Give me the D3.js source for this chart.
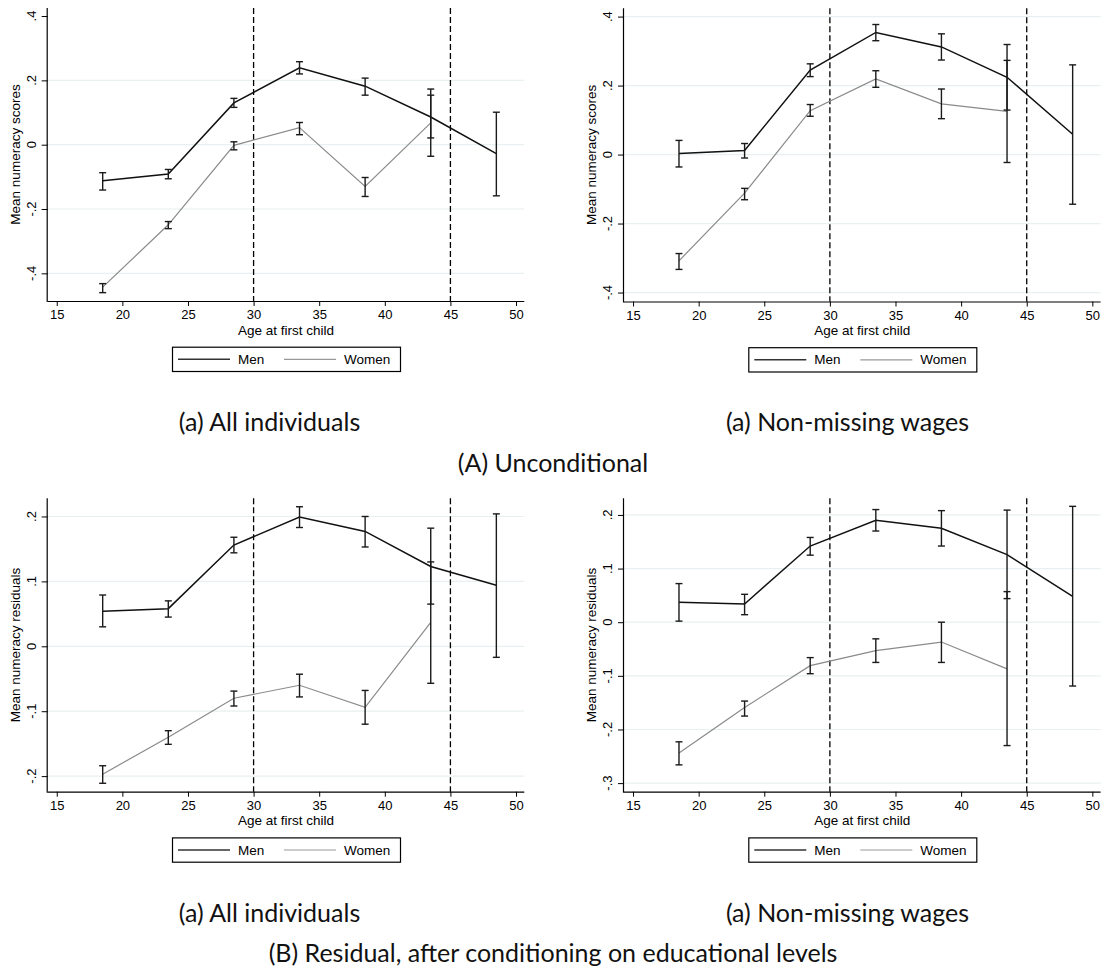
<!DOCTYPE html>
<html>
<head>
<meta charset="utf-8">
<script src="https://cdn.jsdelivr.net/npm/d3@7"></script>
<style>
  html, body { margin: 0; padding: 0; background: #fff; }
  svg { display: block; }
</style>
</head>
<body>
<svg id="chart" width="1105" height="969"></svg>
<script>
// ---------- DATA ----------
const menAges = [18.5, 23.5, 28.5, 33.5, 38.5, 43.5, 48.5];
const womenAges = [18.5, 23.5, 28.5, 33.5, 38.5, 43.5];
const xTicks = [15, 20, 25, 30, 35, 40, 45, 50];
const vLines = [30, 45];
const legendLabels = ["Men", "Women"];

// (A) Unconditional, all individuals
const menAllMean = [-0.112, -0.091, 0.130, 0.239, 0.182, 0.086, -0.028];
const menAllLo   = [-0.141, -0.106, 0.116, 0.220, 0.154, 0.021, -0.159];
const menAllHi   = [-0.087, -0.077, 0.144, 0.258, 0.207, 0.154, 0.101];
const womenAllMean = [-0.443, -0.249, -0.002, 0.053, -0.130, 0.068];
const womenAllLo   = [-0.460, -0.261, -0.016, 0.031, -0.161, -0.036];
const womenAllHi   = [-0.432, -0.239, 0.009, 0.069, -0.102, 0.173];

// (A) Unconditional, non-missing wages
const menWageMean = [0.003, 0.012, 0.245, 0.354, 0.312, 0.224, 0.059];
const menWageLo   = [-0.036, -0.010, 0.226, 0.330, 0.274, 0.129, -0.144];
const menWageHi   = [0.041, 0.032, 0.263, 0.377, 0.350, 0.319, 0.260];
const womenWageMean = [-0.308, -0.112, 0.127, 0.219, 0.147, 0.125];
const womenWageLo   = [-0.333, -0.131, 0.111, 0.195, 0.104, -0.023];
const womenWageHi   = [-0.287, -0.098, 0.145, 0.243, 0.190, 0.273];

// (B) Residual, all individuals
const menResAllMean = [0.054, 0.058, 0.156, 0.199, 0.177, 0.123, 0.094];
const menResAllLo   = [0.030, 0.045, 0.144, 0.183, 0.153, 0.065, -0.017];
const menResAllHi   = [0.079, 0.070, 0.168, 0.215, 0.200, 0.182, 0.204];
const womenResAllMean = [-0.197, -0.140, -0.080, -0.060, -0.094, 0.037];
const womenResAllLo   = [-0.211, -0.151, -0.092, -0.078, -0.120, -0.057];
const womenResAllHi   = [-0.184, -0.130, -0.069, -0.043, -0.068, 0.130];

// (B) Residual, non-missing wages
const menResWageMean = [0.037, 0.034, 0.142, 0.190, 0.175, 0.126, 0.048];
const menResWageLo   = [0.002, 0.014, 0.125, 0.170, 0.142, 0.044, -0.119];
const menResWageHi   = [0.072, 0.052, 0.158, 0.210, 0.208, 0.209, 0.216];
const womenResWageMean = [-0.244, -0.159, -0.081, -0.053, -0.037, -0.087];
const womenResWageLo   = [-0.266, -0.175, -0.096, -0.075, -0.075, -0.230];
const womenResWageHi   = [-0.223, -0.147, -0.066, -0.031, 0.000, 0.057];

const yTicksScores = [0.4, 0.2, 0, -0.2, -0.4];
const yTickLabelsScores = [".4", ".2", "0", "-.2", "-.4"];
const yTicksResAll = [0.2, 0.1, 0, -0.1, -0.2];
const yTickLabelsResAll = [".2", ".1", "0", "-.1", "-.2"];
const yTicksResWage = [0.2, 0.1, 0, -0.1, -0.2, -0.3];
const yTickLabelsResWage = [".2", ".1", "0", "-.1", "-.2", "-.3"];

const subCaptions = ["(a) All individuals", "(a) Non-missing wages"];
const groupCaptions = ["(A) Unconditional", "(B) Residual, after conditioning on educational levels"];

// ---------- LAYOUT ----------
const FONT = "'Liberation Sans', Arial, sans-serif";
const CAPFONT = "Lato, 'Open Sans', sans-serif";
const plotW = 476.6;
const xDomain = [14.31, 50.63];

const panels = [
  { left: 47.7, top: 8, bottom: 301, yDom: [-0.486, 0.425], ylab: "Mean numeracy scores",
    ticks: yTicksScores, tickLabels: yTickLabelsScores, grid: [0.2, 0, -0.2, -0.4],
    men: [menAllMean, menAllLo, menAllHi], women: [womenAllMean, womenAllLo, womenAllHi] },
  { left: 624, top: 8.3, bottom: 301.5, yDom: [-0.426, 0.424], ylab: "Mean numeracy scores",
    ticks: yTicksScores, tickLabels: yTickLabelsScores, grid: yTicksScores,
    men: [menWageMean, menWageLo, menWageHi], women: [womenWageMean, womenWageLo, womenWageHi] },
  { left: 47.7, top: 498.3, bottom: 791.7, yDom: [-0.224, 0.228], ylab: "Mean numeracy residuals",
    ticks: yTicksResAll, tickLabels: yTickLabelsResAll, grid: yTicksResAll,
    men: [menResAllMean, menResAllLo, menResAllHi], women: [womenResAllMean, womenResAllLo, womenResAllHi] },
  { left: 624, top: 498.3, bottom: 791.7, yDom: [-0.316, 0.231], ylab: "Mean numeracy residuals",
    ticks: yTicksResWage, tickLabels: yTickLabelsResWage, grid: yTicksResWage,
    men: [menResWageMean, menResWageLo, menResWageHi], women: [womenResWageMean, womenResWageLo, womenResWageHi] }
];

const svg = d3.select("#chart");

panels.forEach(p => {
  const g = svg.append("g");
  const x = d3.scaleLinear().domain(xDomain).range([p.left, p.left + plotW]);
  const y = d3.scaleLinear().domain(p.yDom).range([p.bottom, p.top]);

  // gridlines
  g.selectAll(".grid").data(p.grid).enter().append("line")
    .attr("x1", p.left).attr("x2", p.left + plotW)
    .attr("y1", d => y(d)).attr("y2", d => y(d))
    .attr("stroke", "#e8f0f1").attr("stroke-width", 1.2);

  // x axis
  const xAxis = d3.axisBottom(x).tickValues(xTicks).tickSize(5).tickPadding(4).tickFormat(d3.format("d"));
  const xa = g.append("g").attr("transform", `translate(0,${p.bottom})`).call(xAxis);
  xa.select(".domain").attr("d", `M${p.left},0.5H${p.left + plotW}`).attr("stroke", "#000").attr("stroke-width", 1.2);
  xa.selectAll(".tick line").attr("stroke", "#000").attr("stroke-width", 1);
  xa.selectAll(".tick text").attr("font-family", FONT).attr("font-size", 13).attr("fill", "#000").attr("dy", "0.71em");

  // y axis
  const yAxis = d3.axisLeft(y).tickValues(p.ticks).tickSize(6).tickFormat((d, i) => p.tickLabels[i]);
  const ya = g.append("g").attr("transform", `translate(${p.left},0)`).call(yAxis);
  ya.select(".domain").attr("d", `M-0.5,${p.top}V${p.bottom + 1}`).attr("stroke", "#000").attr("stroke-width", 1.2);
  ya.selectAll(".tick line").attr("stroke", "#000").attr("stroke-width", 1);
  ya.selectAll(".tick text").remove();
  g.selectAll(".ytl").data(p.ticks).enter().append("text")
    .attr("transform", d => `translate(${p.left - 12},${y(d)}) rotate(-90)`)
    .attr("text-anchor", "middle")
    .attr("font-family", FONT).attr("font-size", 13).attr("fill", "#000")
    .text((d, i) => p.tickLabels[i]);

  // axis titles
  g.append("text")
    .attr("transform", `translate(${p.left - 28},${(p.top + p.bottom) / 2}) rotate(-90)`)
    .attr("text-anchor", "middle").attr("font-family", FONT).attr("font-size", 13.5).attr("fill", "#000")
    .text(p.ylab);
  g.append("text")
    .attr("x", p.left + plotW / 2).attr("y", p.bottom + 33.5)
    .attr("text-anchor", "middle").attr("font-family", FONT).attr("font-size", 13.5).attr("fill", "#000")
    .text("Age at first child");

  // vertical dashed lines
  g.selectAll(".vl").data(vLines).enter().append("line")
    .attr("x1", d => x(d)).attr("x2", d => x(d))
    .attr("y1", p.top).attr("y2", p.bottom)
    .attr("stroke", "#000").attr("stroke-width", 1.3).attr("stroke-dasharray", "6,3");

  const line = d3.line().x(d => x(d[0])).y(d => y(d[1]));
  const menPts = menAges.map((a, i) => [a, p.men[0][i]]);
  const womenPts = womenAges.map((a, i) => [a, p.women[0][i]]);

  g.append("path").attr("d", line(womenPts)).attr("fill", "none")
    .attr("stroke", "#8a8a8a").attr("stroke-width", 1.2);
  g.append("path").attr("d", line(menPts)).attr("fill", "none")
    .attr("stroke", "#111").attr("stroke-width", 1.5);

  // error bars
  const bars = [];
  menAges.forEach((a, i) => bars.push({ a, lo: p.men[1][i], hi: p.men[2][i] }));
  womenAges.forEach((a, i) => bars.push({ a, lo: p.women[1][i], hi: p.women[2][i] }));
  const cap = 3.5;
  const eb = g.selectAll(".eb").data(bars).enter().append("g");
  eb.append("line").attr("x1", d => x(d.a)).attr("x2", d => x(d.a))
    .attr("y1", d => y(d.lo)).attr("y2", d => y(d.hi)).attr("stroke", "#1a1a1a").attr("stroke-width", 1.4);
  eb.append("line").attr("x1", d => x(d.a) - cap).attr("x2", d => x(d.a) + cap)
    .attr("y1", d => y(d.lo)).attr("y2", d => y(d.lo)).attr("stroke", "#1a1a1a").attr("stroke-width", 1.4);
  eb.append("line").attr("x1", d => x(d.a) - cap).attr("x2", d => x(d.a) + cap)
    .attr("y1", d => y(d.hi)).attr("y2", d => y(d.hi)).attr("stroke", "#1a1a1a").attr("stroke-width", 1.4);

  // legend
  const lw = 228, lh = 24.3;
  const lx = p.left + plotW / 2 - lw / 2;
  const ly = p.bottom + 45.7;
  const lg = g.append("g").attr("transform", `translate(${lx},${ly})`);
  lg.append("rect").attr("x", 0.5).attr("y", 0.5).attr("width", lw).attr("height", lh)
    .attr("fill", "#fff").attr("stroke", "#000").attr("stroke-width", 1.2);
  const items = [
    { label: legendLabels[0], color: "#333", x0: 6, x1: 58, tx: 66, w: 1.4 },
    { label: legendLabels[1], color: "#999", x0: 112, x1: 164, tx: 172, w: 1.2 }
  ];
  items.forEach(it => {
    lg.append("line").attr("x1", it.x0).attr("x2", it.x1).attr("y1", 12.6).attr("y2", 12.6)
      .attr("stroke", it.color).attr("stroke-width", it.w);
    lg.append("text").attr("x", it.tx).attr("y", 17.3)
      .attr("font-family", FONT).attr("font-size", 13.5).attr("fill", "#000").text(it.label);
  });
});

// captions
const subX = [269.5, 847.5];
const rowOffsets = [0, 490.5];
rowOffsets.forEach((off, r) => {
  subCaptions.forEach((c, i) => {
    svg.append("text").attr("x", subX[i]).attr("y", 431 + off)
      .attr("text-anchor", "middle").attr("font-family", CAPFONT).attr("font-size", 25)
      .attr("fill", "#111").text(c);
  });
  svg.append("text").attr("x", 553).attr("y", 471.5 + off)
    .attr("text-anchor", "middle").attr("font-family", CAPFONT).attr("font-size", 25)
    .attr("fill", "#111").text(groupCaptions[r]);
});
</script>
</body>
</html>
